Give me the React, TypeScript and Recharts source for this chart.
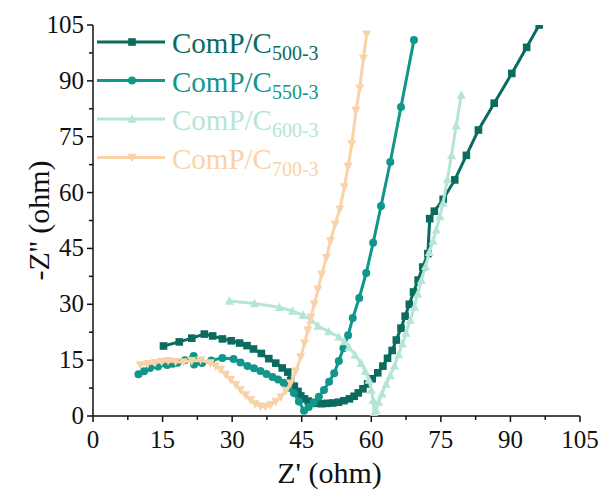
import React from 'react';
import { ScatterChart, Scatter, XAxis, YAxis, Legend } from 'recharts';

const majorTicks = [0, 15, 30, 45, 60, 75, 90, 105];
const allTicks = [0, 7.5, 15, 22.5, 30, 37.5, 45, 52.5, 60, 67.5, 75, 82.5, 90, 97.5, 105];

const seriesLabels = ['500-3', '550-3', '600-3', '700-3'];
const seriesColors = ['#0B6B5E', '#10968A', '#B5E6D5', '#FAD2A8'];

const x500 = [15.2, 18.6, 21.3, 24.0, 25.8, 27.9, 29.8, 31.6, 33.2, 34.6, 36.3, 37.9, 39.4, 40.8, 42.0, 42.6, 43.4, 44.2, 44.8, 45.6, 46.4, 47.2, 48.2, 49.3, 50.5, 51.7, 52.9, 54.1, 55.3, 56.3, 57.2, 58.2, 59.2, 60.2, 61.4, 62.5, 63.5, 64.5, 65.4, 66.4, 67.3, 68.2, 69.1, 70.1, 71.1, 72.2, 72.6, 73.6, 75.5, 78.0, 80.5, 83.1, 86.5, 90.3, 93.5, 96.2];
const y500 = [18.8, 19.9, 20.9, 22.0, 21.5, 20.7, 20.2, 19.6, 18.9, 18.0, 16.8, 15.4, 14.2, 12.9, 11.8, 9.5, 8.0, 6.6, 5.4, 4.6, 4.0, 3.6, 3.4, 3.3, 3.4, 3.5, 3.7, 4.1, 4.6, 5.3, 6.2, 7.3, 8.6, 10.0, 11.6, 13.4, 15.5, 17.6, 20.4, 23.6, 26.8, 30.0, 33.3, 36.5, 40.0, 43.6, 53.0, 55.0, 58.2, 63.4, 70.0, 76.8, 84.0, 92.0, 99.0, 105.0];

const x550 = [9.8, 11.0, 12.3, 14.0, 16.0, 17.2, 18.2, 19.8, 21.7, 21.8, 23.5, 25.5, 27.9, 30.3, 31.8, 33.3, 34.7, 36.1, 37.4, 38.7, 39.9, 41.1, 42.2, 43.3, 44.4, 45.5, 46.5, 47.6, 48.7, 49.8, 50.9, 52.0, 53.0, 54.0, 55.0, 56.0, 57.4, 58.9, 60.4, 62.1, 64.1, 66.4, 69.2];
const y550 = [11.2, 12.0, 12.9, 13.3, 13.7, 14.0, 14.3, 15.0, 16.1, 13.8, 14.2, 14.9, 15.6, 15.3, 14.4, 13.4, 12.8, 12.1, 11.3, 10.5, 9.8, 8.9, 7.6, 6.2, 3.9, 1.4, 2.4, 3.6, 5.2, 7.0, 9.2, 11.5, 14.8, 18.2, 21.7, 26.3, 31.7, 38.4, 46.5, 56.4, 68.2, 83.0, 101.0];

const x600 = [29.4, 34.8, 40.2, 43.0, 45.3, 47.0, 48.5, 50.8, 53.0, 54.2, 55.2, 56.5, 57.8, 58.7, 59.5, 60.0, 60.4, 60.6, 61.0, 61.6, 62.3, 63.2, 64.1, 65.0, 65.9, 66.7, 67.5, 68.4, 69.3, 70.0, 70.8, 71.7, 72.5, 73.3, 74.0, 74.8, 75.5, 76.4, 77.3, 78.3, 79.4];
const y600 = [30.9, 30.2, 29.2, 28.2, 27.1, 25.8, 24.2, 22.7, 21.2, 20.0, 18.5, 16.4, 14.2, 12.0, 9.7, 7.0, 4.3, 0.8, 1.6, 3.8, 6.0, 8.6, 10.9, 13.5, 16.5, 19.4, 22.3, 25.8, 29.3, 32.8, 36.5, 40.2, 44.0, 47.0, 50.0, 53.6, 57.3, 63.5, 70.0, 78.0, 86.2];

const x700 = [10.2, 11.8, 13.4, 14.8, 16.2, 17.8, 19.5, 21.3, 23.2, 25.3, 26.4, 27.5, 28.6, 29.7, 30.8, 31.8, 32.9, 34.0, 35.0, 36.1, 37.2, 38.3, 39.4, 40.5, 41.6, 42.6, 43.7, 44.8, 45.6, 46.3, 47.0, 47.7, 48.5, 49.3, 50.3, 51.2, 52.2, 53.2, 54.2, 55.0, 55.8, 56.7, 57.5, 58.3, 59.0];
const y700 = [13.7, 14.0, 14.3, 14.6, 14.8, 14.6, 14.5, 14.8, 15.0, 14.2, 13.4, 12.4, 11.1, 9.7, 8.4, 7.0, 5.6, 4.3, 3.2, 2.6, 2.5, 3.0, 3.9, 5.1, 6.8, 8.8, 12.0, 15.8, 19.5, 23.0, 26.5, 30.0, 34.0, 38.0, 42.5, 47.0, 51.5, 55.5, 61.5, 67.0, 73.0, 82.0, 88.0, 96.0, 102.5];

const toPoints = (xs: number[], ys: number[]) => xs.map((x, i) => ({ x, y: ys[i] }));

const FONT = 'Liberation Serif, Times New Roman, serif';
const AXIS = '#111';

type MarkerKind = 'square' | 'circle' | 'up' | 'down';

const drawMarker = (kind: MarkerKind, cx: number, cy: number, color: string) => {
  if (kind === 'square') return <rect x={cx - 3.8} y={cy - 3.8} width={7.6} height={7.6} fill={color} />;
  if (kind === 'circle') return <circle cx={cx} cy={cy} r={4} fill={color} />;
  if (kind === 'up') return <polygon points={`${cx - 4.5},${cy + 3.8} ${cx + 4.5},${cy + 3.8} ${cx},${cy - 4.8}`} fill={color} />;
  return <polygon points={`${cx - 4.5},${cy - 3.8} ${cx + 4.5},${cy - 3.8} ${cx},${cy + 4.8}`} fill={color} />;
};

const markerKinds: MarkerKind[] = ['square', 'circle', 'up', 'down'];

const makeShape = (kind: MarkerKind, color: string) => (props: any) => {
  const { cx, cy } = props;
  if (cx == null || cy == null) return <g />;
  return drawMarker(kind, cx, cy, color);
};

const isMajor = (v: number) => Math.abs(v % 15) < 1e-6;

// X tick: label y = axisY + tickSize(6) + tickMargin(9)
const XTick = (props: any) => {
  const { x, y, payload } = props;
  const v = payload.value;
  const axisY = y - 15;
  const major = isMajor(v);
  return (
    <g>
      <line x1={x} x2={x} y1={axisY} y2={axisY + (major ? 6 : 4)} stroke={AXIS} strokeWidth={1.5} />
      {major && (
        <text x={x} y={axisY + 32} textAnchor="middle" fontFamily={FONT} fontSize={25} fill={AXIS} style={{ fontFamily: FONT }}>
          {v}
        </text>
      )}
    </g>
  );
};

// Y tick: label x = axisX - tickSize(6) - tickMargin(3)
const YTick = (props: any) => {
  const { x, y, payload } = props;
  const v = payload.value;
  const axisX = x + 9;
  const major = isMajor(v);
  return (
    <g>
      <line x1={axisX} x2={axisX - (major ? 6 : 4)} y1={y} y2={y} stroke={AXIS} strokeWidth={1.5} />
      {major && (
        <text x={axisX - 9} y={y + 8} textAnchor="end" fontFamily={FONT} fontSize={25} fill={AXIS} style={{ fontFamily: FONT }}>
          {v}
        </text>
      )}
    </g>
  );
};

const LegendContent = () => (
  <svg width={280} height={180} style={{ overflow: 'visible' }}>
    {seriesLabels.map((lab, i) => {
      const cy = 22 + i * 38.5;
      const c = seriesColors[i];
      return (
        <g key={lab}>
          <line x1={7} x2={75} y1={cy} y2={cy} stroke={c} strokeWidth={3} />
          {drawMarker(markerKinds[i], 42, cy, c)}
          <text x={82} y={cy + 11} fill={c} fontFamily={FONT} fontSize={29} style={{ fontFamily: FONT }}>
            ComP/C
            <tspan dy={7} fontSize={20}>{lab}</tspan>
          </text>
        </g>
      );
    })}
  </svg>
);

const series = [
  { data: toPoints(x500, y500), kind: 'square' as MarkerKind, color: seriesColors[0], name: seriesLabels[0] },
  { data: toPoints(x550, y550), kind: 'circle' as MarkerKind, color: seriesColors[1], name: seriesLabels[1] },
  { data: toPoints(x600, y600), kind: 'up' as MarkerKind, color: seriesColors[2], name: seriesLabels[2] },
  { data: toPoints(x700, y700), kind: 'down' as MarkerKind, color: seriesColors[3], name: seriesLabels[3] },
];

export default function App() {
  return (
    <div style={{ position: 'absolute', left: 0, top: 0, background: '#fff', fontFamily: FONT }}>
      <ScatterChart width={605} height={493} margin={{ top: 25, right: 25, bottom: 7, left: 33 }} style={{ fontFamily: FONT }}>
        <XAxis
          xAxisId={0}
          type="number"
          dataKey="x"
          domain={[0, 105]}
          ticks={allTicks}
          interval={0}
          tick={<XTick />}
          tickSize={6}
          tickMargin={9}
          axisLine={{ stroke: AXIS, strokeWidth: 1.5 }}
          tickLine={false}
          height={70}
          allowDataOverflow
          label={{ value: "Z' (ohm)", position: 'center', dy: 21, dx: -7, style: { fontFamily: FONT, fontSize: 30, fill: AXIS } }}
        />
        <XAxis
          xAxisId="top"
          orientation="top"
          type="number"
          domain={[0, 105]}
          ticks={majorTicks}
          tick={false}
          tickLine={false}
          axisLine={{ stroke: AXIS, strokeWidth: 1.5 }}
          height={0}
        />
        <YAxis
          yAxisId={0}
          type="number"
          dataKey="y"
          domain={[0, 105]}
          ticks={allTicks}
          interval={0}
          tick={<YTick />}
          tickSize={6}
          tickMargin={3}
          axisLine={{ stroke: AXIS, strokeWidth: 1.5 }}
          tickLine={false}
          width={60}
          allowDataOverflow
          label={{ value: "-Z'' (ohm)", angle: -90, position: 'center', dx: -25, style: { fontFamily: FONT, fontSize: 30, fill: AXIS } }}
        />
        <YAxis
          yAxisId="right"
          orientation="right"
          type="number"
          domain={[0, 105]}
          ticks={majorTicks}
          tick={false}
          tickLine={false}
          axisLine={{ stroke: AXIS, strokeWidth: 1.5 }}
          width={0}
        />
        <Legend
          layout="horizontal"
          verticalAlign="middle"
          align="center"
          content={() => <LegendContent />}
          wrapperStyle={{ position: 'absolute', left: 90, top: 20, width: 280, height: 180 }}
        />
        {series.map((s) => (
          <Scatter
            key={s.name}
            name={s.name}
            data={s.data}
            fill={s.color}
            line={{ stroke: s.color, strokeWidth: 3 }}
            lineType="joint"
            shape={makeShape(s.kind, s.color)}
            isAnimationActive={false}
          />
        ))}
      </ScatterChart>
    </div>
  );
}
